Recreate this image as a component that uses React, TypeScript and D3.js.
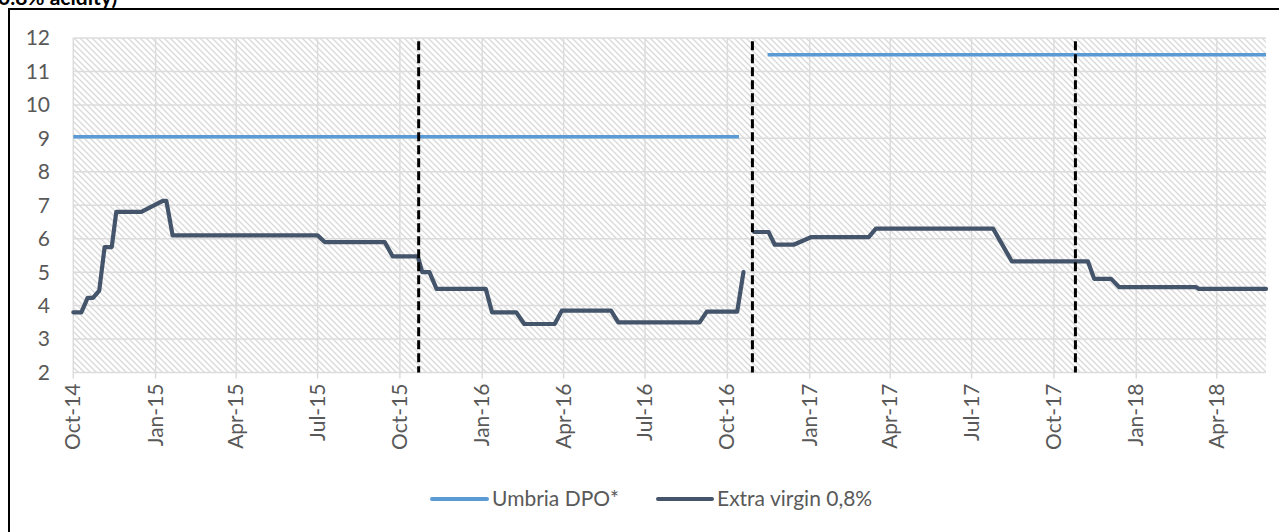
import React from "react";
import * as d3 from "d3";

// ---- data ----
const evDates = [
  "2014-10-01", "2014-10-10", "2014-10-17", "2014-10-23", "2014-10-30", "2014-11-05", "2014-11-13",
  "2014-11-18", "2014-12-16", "2015-01-09", "2015-01-13", "2015-01-20", "2015-07-01", "2015-07-09",
  "2015-09-14", "2015-09-23", "2015-10-21", "2015-10-26", "2015-11-03", "2015-11-11", "2016-01-05",
  "2016-01-12", "2016-02-08", "2016-02-17", "2016-03-22", "2016-03-30", "2016-05-24", "2016-06-01",
  "2016-08-31", "2016-09-08", "2016-10-12", "2016-10-19",
  "2016-10-25",
  "2016-10-31", "2016-11-16", "2016-11-23", "2016-12-14", "2017-01-03", "2017-03-08", "2017-03-16",
  "2017-07-25", "2017-08-15", "2017-11-08", "2017-11-15", "2017-12-04", "2017-12-13", "2018-03-09",
  "2018-03-12", "2018-05-26",
];
const evValues: (number | null)[] = [
  3.8, 3.8, 4.23, 4.23, 4.45, 5.75, 5.75,
  6.8, 6.8, 7.13, 7.13, 6.1, 6.1, 5.9,
  5.9, 5.47, 5.47, 5.0, 5.0, 4.5, 4.5,
  3.8, 3.8, 3.45, 3.45, 3.85, 3.85, 3.5,
  3.5, 3.82, 3.82, 5.0,
  null,
  6.2, 6.2, 5.82, 5.82, 6.05, 6.05, 6.3,
  6.3, 5.32, 5.32, 4.8, 4.8, 4.55, 4.55,
  4.5, 4.5,
];
const umbriaDates = ["2014-10-01", "2016-10-14", "2016-10-30", "2016-11-15", "2018-05-26"];
const umbriaValues: (number | null)[] = [9.05, 9.05, null, 11.5, 11.5];
const markerDates = ["2015-10-22", "2016-10-29", "2017-10-25"];
const yTicks = [2, 3, 4, 5, 6, 7, 8, 9, 10, 11, 12];
const seriesNames = ["Umbria DPO*", "Extra virgin 0,8%"];
const titleFragment = "0.8% acidity)";

const parse = d3.timeParse("%Y-%m-%d");
const fmt = d3.timeFormat("%b-%y");

export default function App() {
  const W = 1279, H = 532;
  const left = 73.3, right = 1266, top = 38, bottom = 372.5;
  const x = d3.scaleTime()
    .domain([parse("2014-10-01")!, parse("2018-05-26")!])
    .range([left, right]);
  const y = d3.scaleLinear().domain([2, 12]).range([bottom, top]);
  const xTicks = x.ticks(d3.timeMonth.every(3)!);

  type P = { d: Date; v: number | null };
  const ev: P[] = evDates.map((s, i) => ({ d: parse(s)!, v: evValues[i] }));
  const um: P[] = umbriaDates.map((s, i) => ({ d: parse(s)!, v: umbriaValues[i] }));
  const line = d3.line<P>()
    .defined((p) => p.v !== null)
    .x((p) => x(p.d))
    .y((p) => y(p.v as number));

  const font = "Lato, 'Open Sans', sans-serif";
  const textColor = "#595959";
  const grid = "#dcdcdc";
  const blue = "#5B9BD5";
  const dark = "#44546A";

  return (
    <svg width={W} height={H} style={{ position: "absolute", left: 0, top: 0, background: "#fff" }}>
      <defs>
        <pattern id="hatch" patternUnits="userSpaceOnUse" width={6} height={6}>
          <rect width={6} height={6} fill="#ffffff" />
          <path d="M0,0 L6,6 M-1,5 L1,7 M5,-1 L7,1" stroke="#d9d9d9" strokeWidth={1.3} />
        </pattern>
      </defs>
      <text x={-2} y={5} fontFamily={font} fontWeight="bold" fontSize={21} fill="#000">
        {titleFragment}
      </text>
      <path d={`M9,${H + 5} L9,9 L${W + 5},9`} fill="none" stroke="#000" strokeWidth={2} />

      <rect x={left} y={top} width={right - left} height={bottom - top} fill="url(#hatch)" />
      {yTicks.map((t) => (
        <line key={"hg" + t} x1={left} x2={right} y1={y(t)} y2={y(t)} stroke={grid} strokeWidth={1.5} />
      ))}
      {xTicks.map((t, i) => (
        <g key={"vx" + i}>
          <line x1={x(t)} x2={x(t)} y1={top} y2={bottom + 6} stroke={grid} strokeWidth={1.5} />
          <text
            transform={`translate(${x(t) + 7},${bottom + 11}) rotate(-90)`}
            textAnchor="end"
            fontFamily={font}
            fontSize={21}
            fill={textColor}
          >
            {fmt(t)}
          </text>
        </g>
      ))}
      {yTicks.map((t) => (
        <text key={"yl" + t} x={50} y={y(t)} dy="0.35em" textAnchor="end" fontFamily={font} fontSize={21} fill={textColor}>
          {t}
        </text>
      ))}

      <path d={line(um) || ""} fill="none" stroke={blue} strokeWidth={3.5} strokeLinejoin="round" />
      <path d={line(ev) || ""} fill="none" stroke={dark} strokeWidth={4.2} strokeLinejoin="round" strokeLinecap="round" />

      {markerDates.map((s) => {
        const xx = x(parse(s)!);
        return (
          <line key={s} x1={xx} x2={xx} y1={y(11.9)} y2={y(2)} stroke="#000" strokeWidth={3} strokeDasharray="9,4" />
        );
      })}

      {/* legend */}
      <g fontFamily={font} fontSize={21} fill={textColor}>
        <line x1={432} x2={487} y1={499} y2={499} stroke={blue} strokeWidth={4} strokeLinecap="round" />
        <text x={492} y={499} dy="0.35em">{seriesNames[0]}</text>
        <line x1={658} x2={712} y1={499} y2={499} stroke={dark} strokeWidth={4} strokeLinecap="round" />
        <text x={717} y={499} dy="0.35em">{seriesNames[1]}</text>
      </g>
    </svg>
  );
}
